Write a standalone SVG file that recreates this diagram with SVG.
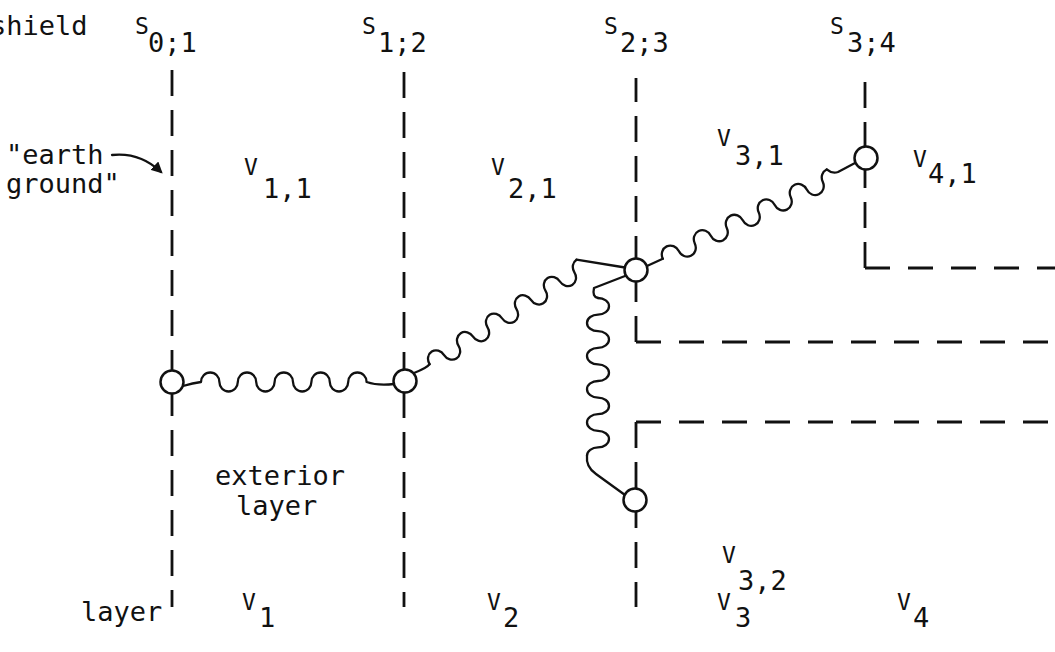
<svg xmlns="http://www.w3.org/2000/svg" width="1055" height="652" viewBox="0 0 1055 652">
<defs>
<style>
.t{font-family:"DejaVu Sans Mono","Liberation Mono",monospace;font-size:27px;fill:#111}
.m{font-family:"DejaVu Sans Mono","Liberation Mono",monospace;font-size:23px;fill:#111}
.dv{fill:none;stroke:#111;stroke-width:2.8;stroke-dasharray:26 14}
.dh{fill:none;stroke:#111;stroke-width:2.8;stroke-dasharray:25 18}
.w{fill:none;stroke:#111;stroke-width:2.3;stroke-linejoin:round;stroke-linecap:round}
.n{fill:#fff;stroke:#111;stroke-width:2.5}
</style>
<marker id="ah" viewBox="0 0 10 10" refX="8" refY="5" markerWidth="5" markerHeight="5" orient="auto" markerUnits="strokeWidth">
<path d="M0,0 L10,5 L0,10 z" fill="#111"/>
</marker>
</defs>
<rect width="1055" height="652" fill="#fff"/>

<g id="boundaries">
<path class="dv" d="M172,70 V607"/>
<path class="dv" d="M404,72 V607"/>
<path class="dv" d="M636,342 V78"/>
<path class="dh" d="M636,342 H1055"/>
<path class="dh" d="M636,422 H1055"/>
<path class="dv" d="M636,422 V607"/>
<path class="dv" d="M865,268 V77"/>
<path class="dh" d="M865,268 H1055"/>
</g>

<g id="connectors">
<path class="w" d="M183,386 Q193,383 201,382 A9.2,9.5 0 0 1 219.4,382 A9.2,9.5 0 0 0 237.8,382 A9.2,9.5 0 0 1 256.2,382 A9.2,9.5 0 0 0 274.6,382 A9.2,9.5 0 0 1 293,382 A9.2,9.5 0 0 0 311.4,382 A9.2,9.5 0 0 1 329.8,382 A9.2,9.5 0 0 0 348.2,382 A9.2,9.5 0 0 1 366.6,382 Q378,386 394,384"/>
<path class="w" d="M414,373 Q427,368 429.6,364.2"/>
<path class="w" transform="translate(429.6,364.2) rotate(-32.4)" d="M0,0 A8.575,9.5 0 0 1 17.15,0 A8.575,9.5 0 0 0 34.3,0 A8.575,9.5 0 0 1 51.45,0 A8.575,9.5 0 0 0 68.6,0 A8.575,9.5 0 0 1 85.75,0 A8.575,9.5 0 0 0 102.9,0 A8.575,9.5 0 0 1 120.05,0 A8.575,9.5 0 0 0 137.2,0 A8.575,9.5 0 0 1 154.35,0 A8.575,9.5 0 0 0 171.5,0 A8.575,9.5 0 0 1 180.075,-9.5"/>
<path class="w" d="M576.5,259.7 L625,267.5"/>
<path class="w" d="M647,266 L662.8,258.8"/>
<path class="w" transform="translate(662.8,258.8) rotate(-25.7)" d="M0,0 A8.875,9.5 0 0 1 17.75,0 A8.875,9.5 0 0 0 35.5,0 A8.875,9.5 0 0 1 53.25,0 A8.875,9.5 0 0 0 71,0 A8.875,9.5 0 0 1 88.75,0 A8.875,9.5 0 0 0 106.5,0 A8.875,9.5 0 0 1 124.25,0 A8.875,9.5 0 0 0 142,0 A8.875,9.5 0 0 1 159.75,0 A8.875,9.5 0 0 0 177.5,0 A8.875,9.5 0 0 1 186.375,-9.5"/>
<path class="w" d="M826.7,169.4 Q832,174 838,172 L855,163"/>
<path class="w" d="M625,276 L594,288 Q592,297 598,298"/>
<path class="w" transform="translate(598,298) rotate(90)" d="M0,0 A8.3,11 0 0 1 16.6,0 A8.3,11 0 0 0 33.2,0 A8.3,11 0 0 1 49.8,0 A8.3,11 0 0 0 66.4,0 A8.3,11 0 0 1 83,0 A8.3,11 0 0 0 99.6,0 A8.3,11 0 0 1 116.2,0 A8.3,11 0 0 0 132.8,0 A8.3,11 0 0 1 149.4,0 A8.3,11 0 0 0 157.7,11"/>
<path class="w" d="M587,455.7 C586,464 590,470 596,474 L625,495"/>
<path class="w" stroke-width="2.4" d="M112,155 Q140,152 161,172" marker-end="url(#ah)"/>
</g>

<g id="node-v1"><circle class="n" cx="172" cy="382" r="11.5"/></g>
<g id="node-v2"><circle class="n" cx="405" cy="381" r="11.5"/></g>
<g id="node-v3-1"><circle class="n" cx="636" cy="270" r="11.5"/></g>
<g id="node-v4-1"><circle class="n" cx="866" cy="158" r="11.5"/></g>
<g id="node-v3-2"><circle class="n" cx="635" cy="500" r="11.5"/></g>

<g id="labels">
<text class="t" x="-10" y="35">shield</text>
<text x="135" y="34"><tspan class="m">S</tspan><tspan class="t" x="148" y="52">0;1</tspan></text>
<text x="362" y="34"><tspan class="m">S</tspan><tspan class="t" x="378" y="52">1;2</tspan></text>
<text x="604" y="34"><tspan class="m">S</tspan><tspan class="t" x="620" y="52">2;3</tspan></text>
<text x="830" y="34"><tspan class="m">S</tspan><tspan class="t" x="847" y="52">3;4</tspan></text>
<text class="t" x="6" y="164">"earth</text>
<text class="t" x="6" y="193">ground"</text>
<text x="244" y="175"><tspan class="m">V</tspan><tspan class="t" x="263" y="198">1,1</tspan></text>
<text x="491" y="175"><tspan class="m">V</tspan><tspan class="t" x="508" y="198">2,1</tspan></text>
<text x="717" y="146"><tspan class="m">V</tspan><tspan class="t" x="735" y="165">3,1</tspan></text>
<text x="913" y="167"><tspan class="m">V</tspan><tspan class="t" x="928" y="183">4,1</tspan></text>
<text x="722" y="563"><tspan class="m">V</tspan><tspan class="t" x="738" y="590">3,2</tspan></text>
<text class="t" x="215" y="485">exterior</text>
<text class="t" x="236" y="515">layer</text>
<text class="t" x="81" y="621">layer</text>
<text x="242" y="610"><tspan class="m">V</tspan><tspan class="t" x="259" y="627">1</tspan></text>
<text x="487" y="610"><tspan class="m">V</tspan><tspan class="t" x="503" y="627">2</tspan></text>
<text x="717" y="610"><tspan class="m">V</tspan><tspan class="t" x="735" y="627">3</tspan></text>
<text x="897" y="610"><tspan class="m">V</tspan><tspan class="t" x="913" y="627">4</tspan></text>
</g>
</svg>
